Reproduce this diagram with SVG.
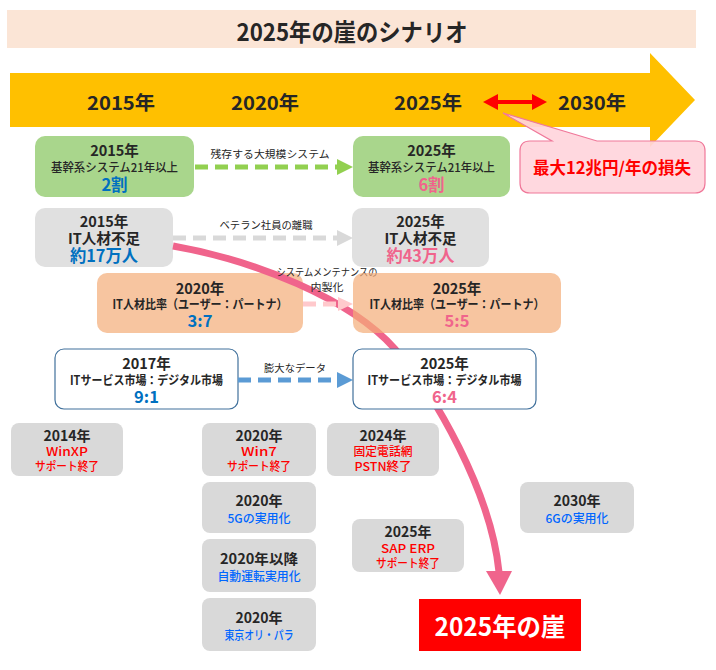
<svg xmlns="http://www.w3.org/2000/svg" width="716" height="670" viewBox="0 0 716 670">
<style>
text{font-family:"Noto Sans CJK JP","Noto Sans",sans-serif;text-anchor:middle;dominant-baseline:central;fill:#262626}
.t{font-size:24px;font-weight:700}
.yl{font-size:19px;font-weight:700}
.y{font-size:14.5px;font-weight:700}
.yb{font-size:14px;font-weight:700}
.s{font-size:12px;font-weight:500}
.sb{font-size:12.5px;font-weight:700}
.b{font-size:16.5px;font-weight:700}
.l{font-size:10.5px}
.e{font-size:12px;font-weight:500}
.cb{font-size:16.5px;font-weight:700;fill:#ff0000}
.cl{font-size:25px;font-weight:700;fill:#ffffff}
.blue{fill:#0070c0}.pink{fill:#f0648c}.red{fill:#ff0000}.lb{fill:#0066ff}
.gb{fill:#d9d9d9}
.green{fill:#a9d68c}
.gray{fill:#e0e0e0}
.org{fill:#f7c5a0}
.wht{fill:#ffffff;stroke:#41719c;stroke-width:1.2}
.dash{fill:none;stroke-width:5;stroke-dasharray:13 7}
</style>

<g id="title">
<rect x="7" y="10" width="689" height="38" fill="#fbe5d6"/>
<text class="t" x="352" y="30" textLength="231" lengthAdjust="spacingAndGlyphs">2025年の崖のシナリオ</text>
</g>

<g id="timeline">
<polygon points="10,73 650,73 650,53 695,100 650,147 650,127 10,127" fill="#ffc000"/>
<text class="yl" x="121" y="101" textLength="68" lengthAdjust="spacingAndGlyphs">2015年</text>
<text class="yl" x="265" y="101" textLength="68" lengthAdjust="spacingAndGlyphs">2020年</text>
<text class="yl" x="428" y="101" textLength="68" lengthAdjust="spacingAndGlyphs">2025年</text>
<text class="yl" x="592" y="101" textLength="68" lengthAdjust="spacingAndGlyphs">2030年</text>
</g>

<g id="range-arrow">
<line x1="495" y1="102" x2="535" y2="102" stroke="#ff0000" stroke-width="4"/>
<polygon points="483,102 498,94 498,110" fill="#ff0000"/>
<polygon points="547,102 532,94 532,110" fill="#ff0000"/>
</g>

<g id="callout">
<path d="M530,141 H552 L503,113 L597,141 H695 Q705,141 705,151 V183 Q705,193 695,193 H530 Q520,193 520,183 V151 Q520,141 530,141 Z" fill="#ffd5dc" fill-opacity="0.92" stroke="#f0789a" stroke-width="1.2"/>
<text class="cb" x="612" y="167" textLength="158" lengthAdjust="spacingAndGlyphs">最大12兆円/年の損失</text>
</g>

<g id="sys2015">
<rect class="green" x="35" y="136" width="159" height="61" rx="10"/>
<text class="y" x="114.5" y="149">2015年</text>
<text class="s" x="114.5" y="166" textLength="127" lengthAdjust="spacingAndGlyphs">基幹系システム21年以上</text>
<text class="b blue" x="114.5" y="184">2割</text>
</g>

<g id="sys2025">
<rect class="green" x="353" y="136" width="157" height="61" rx="10"/>
<text class="y" x="431.5" y="149">2025年</text>
<text class="s" x="431.5" y="166" textLength="127" lengthAdjust="spacingAndGlyphs">基幹系システム21年以上</text>
<text class="b pink" x="431.5" y="184">6割</text>
</g>

<g id="it2015">
<rect class="gray" x="35" y="208" width="138" height="59" rx="10"/>
<text class="y" x="104" y="220">2015年</text>
<text class="y" x="104" y="237" textLength="72" lengthAdjust="spacingAndGlyphs">IT人材不足</text>
<text class="b blue" x="104" y="255" textLength="68" lengthAdjust="spacingAndGlyphs">約17万人</text>
</g>

<g id="it2025">
<rect class="gray" x="352" y="208" width="137" height="59" rx="10"/>
<text class="y" x="420.5" y="220">2025年</text>
<text class="y" x="420.5" y="237" textLength="72" lengthAdjust="spacingAndGlyphs">IT人材不足</text>
<text class="b pink" x="420.5" y="255" textLength="68" lengthAdjust="spacingAndGlyphs">約43万人</text>
</g>

<g id="ratio2020">
<rect class="org" x="97" y="273" width="206" height="60" rx="10"/>
<text class="y" x="200" y="287">2020年</text>
<text class="sb" x="200" y="303" textLength="175" lengthAdjust="spacingAndGlyphs">IT人材比率（ユーザー：パートナ）</text>
<text class="b blue" x="200" y="320">3:7</text>
</g>

<g id="market2017">
<rect class="wht" x="55" y="349" width="183" height="60" rx="9"/>
<text class="y" x="146.5" y="362">2017年</text>
<text class="sb" x="146.5" y="379" textLength="153" lengthAdjust="spacingAndGlyphs">ITサービス市場：デジタル市場</text>
<text class="b blue" x="146.5" y="396">9:1</text>
</g>

<g id="winxp">
<rect class="gb" x="11" y="423" width="112" height="53" rx="8"/>
<text class="yb" x="67" y="435">2014年</text>
<text class="e red" x="67" y="450" textLength="42" lengthAdjust="spacingAndGlyphs">WinXP</text>
<text class="e red" x="67" y="465" textLength="64" lengthAdjust="spacingAndGlyphs">サポート終了</text>
</g>

<g id="win7">
<rect class="gb" x="202" y="423" width="114" height="53" rx="8"/>
<text class="yb" x="259" y="435">2020年</text>
<text class="e red" x="259" y="450" textLength="36" lengthAdjust="spacingAndGlyphs">Win7</text>
<text class="e red" x="259" y="465" textLength="64" lengthAdjust="spacingAndGlyphs">サポート終了</text>
</g>

<g id="pstn">
<rect class="gb" x="327" y="423" width="112" height="53" rx="8"/>
<text class="yb" x="383" y="435">2024年</text>
<text class="e red" x="383" y="450" textLength="59" lengthAdjust="spacingAndGlyphs">固定電話網</text>
<text class="e red" x="383" y="465" textLength="57" lengthAdjust="spacingAndGlyphs">PSTN終了</text>
</g>

<g id="g5">
<rect class="gb" x="202" y="482" width="114" height="51" rx="8"/>
<text class="yb" x="259" y="500">2020年</text>
<text class="e lb" x="259" y="517" textLength="63" lengthAdjust="spacingAndGlyphs">5Gの実用化</text>
</g>

<g id="g6">
<rect class="gb" x="520" y="482" width="114" height="51" rx="8"/>
<text class="yb" x="577" y="500">2030年</text>
<text class="e lb" x="577" y="517" textLength="63" lengthAdjust="spacingAndGlyphs">6Gの実用化</text>
</g>

<g id="autodrive">
<rect class="gb" x="202" y="539" width="114" height="53" rx="8"/>
<text class="yb" x="259" y="558" textLength="78" lengthAdjust="spacingAndGlyphs">2020年以降</text>
<text class="e lb" x="259" y="575" textLength="83" lengthAdjust="spacingAndGlyphs">自動運転実用化</text>
</g>

<g id="sap">
<rect class="gb" x="352" y="519" width="112" height="53" rx="8"/>
<text class="yb" x="408" y="531">2025年</text>
<text class="e red" x="408" y="547" textLength="54" lengthAdjust="spacingAndGlyphs">SAP ERP</text>
<text class="e red" x="408" y="562" textLength="64" lengthAdjust="spacingAndGlyphs">サポート終了</text>
</g>

<g id="olympics">
<rect class="gb" x="202" y="598" width="114" height="53" rx="8"/>
<text class="yb" x="259" y="617">2020年</text>
<text class="e lb" x="259" y="634" textLength="69" lengthAdjust="spacingAndGlyphs">東京オリ・パラ</text>
</g>

<g id="cliff">
<rect x="419" y="599" width="162" height="52" fill="#ff0000"/>
<text class="cl" x="500" y="625" textLength="131" lengthAdjust="spacingAndGlyphs">2025年の崖</text>
</g>

<g id="connectors">
<path d="M173,246 C253,260 350,298 395,349 C435,394 491,492 499,572" fill="none" stroke="#f0648c" stroke-width="7"/>
<polygon points="486,571 512,571 500,595" fill="#f0648c"/>

<line class="dash" x1="195" y1="167" x2="338" y2="167" stroke="#92d050"/>
<polygon points="337,159 353,167 337,175" fill="#92d050"/>
<text class="l" x="270" y="153" textLength="119" lengthAdjust="spacingAndGlyphs">残存する大規模システム</text>

<line class="dash" x1="173" y1="238" x2="338" y2="238" stroke="#d9d9d9"/>
<polygon points="337,230 353,238 337,246" fill="#d9d9d9"/>
<text class="l" x="266" y="224" textLength="93" lengthAdjust="spacingAndGlyphs">ベテラン社員の離職</text>

<line class="dash" x1="303" y1="304" x2="339" y2="304" stroke="#ffc9cc"/>
<polygon points="338,297 353,304 338,311" fill="#ffc9cc"/>
<text class="l" x="327" y="271" textLength="101" lengthAdjust="spacingAndGlyphs">システムメンテナンスの</text>
<text class="l" x="327" y="286" textLength="33" lengthAdjust="spacingAndGlyphs">内製化</text>

<line class="dash" x1="238" y1="380" x2="338" y2="380" stroke="#5b9bd5"/>
<polygon points="337,372 353,380 337,388" fill="#5b9bd5"/>
<text class="l" x="295" y="367" textLength="62" lengthAdjust="spacingAndGlyphs">膨大なデータ</text>
</g>

<g id="ratio2025">
<rect x="353" y="273" width="208" height="60" rx="10" fill="#f4ac77" fill-opacity="0.7"/>
<text class="y" x="457" y="287">2025年</text>
<text class="sb" x="457" y="303" textLength="175" lengthAdjust="spacingAndGlyphs">IT人材比率（ユーザー：パートナ）</text>
<text class="b pink" x="457" y="320">5:5</text>
</g>

<g id="market2025">
<rect class="wht" x="353" y="349" width="183" height="60" rx="9"/>
<text class="y" x="444.5" y="362">2025年</text>
<text class="sb" x="444.5" y="379" textLength="154" lengthAdjust="spacingAndGlyphs">ITサービス市場：デジタル市場</text>
<text class="b pink" x="444.5" y="396">6:4</text>
</g>
</svg>
